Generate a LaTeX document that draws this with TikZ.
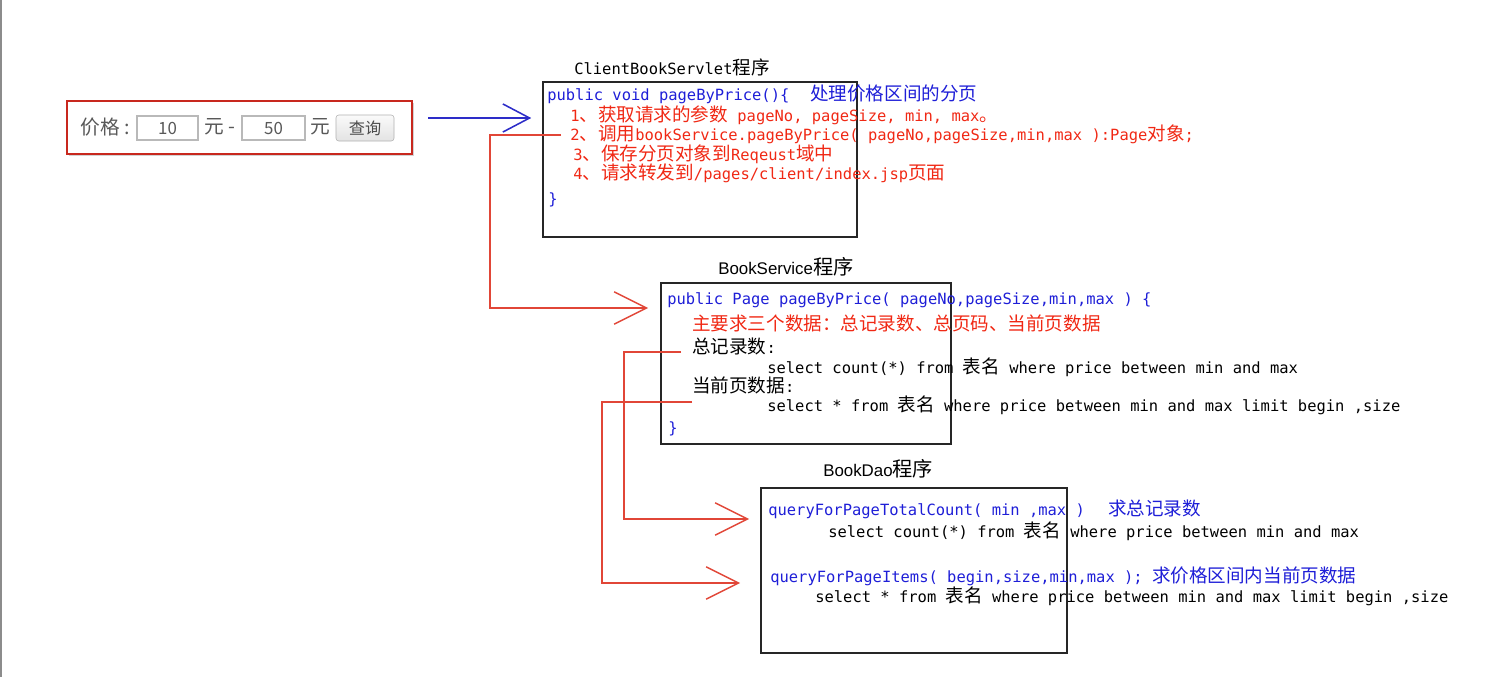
\documentclass[tikz,border=0pt]{standalone}
\usepackage{fontspec}
\setmainfont{Liberation Sans}
\setsansfont{Liberation Sans}
\setmonofont{DejaVu Sans Mono}
\newfontfamily\cjkmono[Scale=1.2]{Noto Sans CJK SC}
\newfontfamily\cjkui{Noto Sans CJK SC}
\usepackage{tikz}
\usetikzlibrary{arrows.meta, positioning, fit, shadows}
\usepackage{xcolor}
\definecolor{codeblue}{RGB}{30,30,215}
\definecolor{codered}{RGB}{240,40,20}
\definecolor{linered}{RGB}{225,70,55}
\definecolor{lineblue}{RGB}{45,45,200}
\definecolor{formred}{RGB}{200,40,30}
\newcommand{\zh}[1]{{\cjkmono #1}}
\newcommand{\codefont}{\ttfamily\fontsize{11pt}{13pt}\selectfont}
\newcommand{\headfont}{\sffamily\fontsize{12pt}{14pt}\selectfont}

\begin{document}
\begin{tikzpicture}[x=0.025cm, y=-0.025cm,
  codebox/.style={draw=black!85, line width=1.1pt, inner sep=0pt},
  code/.style={anchor=base west, inner sep=0pt, font=\codefont},
  head/.style={anchor=base west, inner sep=0pt, font=\headfont},
  redarr/.style={draw=linered, line width=1.1pt, -{Straight Barb[length=23pt, width=23pt]}},
  bluearr/.style={draw=lineblue, line width=1.1pt, -{Straight Barb[length=19pt, width=20pt]}},
  field/.style={draw=gray!55, line width=0.8pt, fill=white, inner sep=0pt},
  formtext/.style={inner sep=0pt, text=black!65, font=\cjkui\fontsize{14pt}{16pt}\selectfont}]
  \useasboundingbox (0,0) rectangle (1508,677);
  \draw[line width=2pt, black!45] (1,0) -- (1,677);

  % query form
  \node[fit={(67,101) (412,154)}, draw=formred, line width=1.2pt, fill=white, inner sep=0pt,
        drop shadow={shadow xshift=1.5pt, shadow yshift=-1.5pt, opacity=.35}] (form) {};
  \node[formtext] (price) at (105,127) {价格 :};
  \node[field, fit={(137,116) (198,140)}] (low) {};
  \node[formtext, font=\cjkui\fontsize{12pt}{14pt}\selectfont] at (low.center) {10};
  \node[formtext] (yuan1) at (220,127) {元 -};
  \node[field, fit={(242,116) (305,140)}] (high) {};
  \node[formtext, font=\cjkui\fontsize{12pt}{14pt}\selectfont] at (high.center) {50};
  \node[formtext] (yuan2) at (320,127) {元};
  \node[fit={(336,115) (394,141)}, draw=gray!60, rounded corners=2pt, inner sep=0pt,
        top color=gray!4, bottom color=gray!22] (btn) {};
  \node[formtext, font=\cjkui\fontsize{11.5pt}{13pt}\selectfont, text=black!70] at (btn.center) {查询};

  % ClientBookServlet
  \node[code] (servlethead) at (574,74) {ClientBookServlet\zh{程序}};
  \node[codebox, fit={(543,82) (857,237)}] (servlet) {};
  \node[code, text=codeblue] (s1) at (547,100) {public void pageByPrice()\{};
  \node[code, text=codeblue] (s1c) at (810,100) {\zh{处理价格区间的分页}};
  \node[code, text=codered] (s2) at (570,121) {1\zh{、获取请求的参数} pageNo, pageSize, min, max\zh{。}};
  \node[code, text=codered] (s3) at (570,140) {2\zh{、调用}bookService.pageByPrice( pageNo,pageSize,min,max ):Page\zh{对象};};
  \node[code, text=codered] (s4) at (573,160) {3\zh{、保存分页对象到}Reqeust\zh{域中}};
  \node[code, text=codered] (s5) at (573,179) {4\zh{、请求转发到}/pages/client/index.jsp\zh{页面}};
  \node[code, text=codeblue] (s6) at (548,204) {\}};

  % BookService
  \node[head] (servicehead) at (718,274) {BookService\zh{程序}};
  \node[codebox, fit={(661,283) (951,444)}] (service) {};
  \node[code, text=codeblue] (p1) at (667,304) {public Page pageByPrice( pageNo,pageSize,min,max ) \{};
  \node[code, text=codered] (p2) at (692,330) {\zh{主要求三个数据：总记录数、总页码、当前页数据}};
  \node[code] (p3) at (692,353) {\zh{总记录数}:};
  \node[code] (p4) at (767,373) {select count(*) from \zh{表名} where price between min and max};
  \node[code] (p5) at (692,392) {\zh{当前页数据}:};
  \node[code] (p6) at (767,411) {select * from \zh{表名} where price between min and max limit begin ,size};
  \node[code, text=codeblue] (p7) at (668,433) {\}};

  % BookDao
  \node[head] (daohead) at (823,476) {BookDao\zh{程序}};
  \node[codebox, fit={(761,488) (1067,653)}] (dao) {};
  \node[code, text=codeblue] (d1) at (768,515) {queryForPageTotalCount( min ,max )};
  \node[code, text=codeblue] (d1c) at (1108,515) {\zh{求总记录数}};
  \node[code] (d2) at (828,537) {select count(*) from \zh{表名} where price between min and max};
  \node[code, text=codeblue] (d3) at (770,582) {queryForPageItems( begin,size,min,max ); \zh{求价格区间内当前页数据}};
  \node[code] (d4) at (815,602) {select * from \zh{表名} where price between min and max limit begin ,size};

  % calls
  \coordinate (ask) at (428,118);
  \coordinate (callsvc) at (561,135);
  \coordinate (total) at (681,352);
  \coordinate (items) at (692,402);
  \draw[bluearr, shorten >=0.275cm] (ask) -- (servlet.west |- ask);
  \draw[redarr, shorten >=0.3cm] (callsvc) -- (490,135) |- (service.west |- 0,308);
  \draw[redarr, shorten >=0.275cm] (total) -- (624,352) |- (dao.west |- 0,519);
  \draw[redarr, shorten >=0.5cm] (items) -- (602,402) |- (dao.west |- 0,583);
\end{tikzpicture}
\end{document}
